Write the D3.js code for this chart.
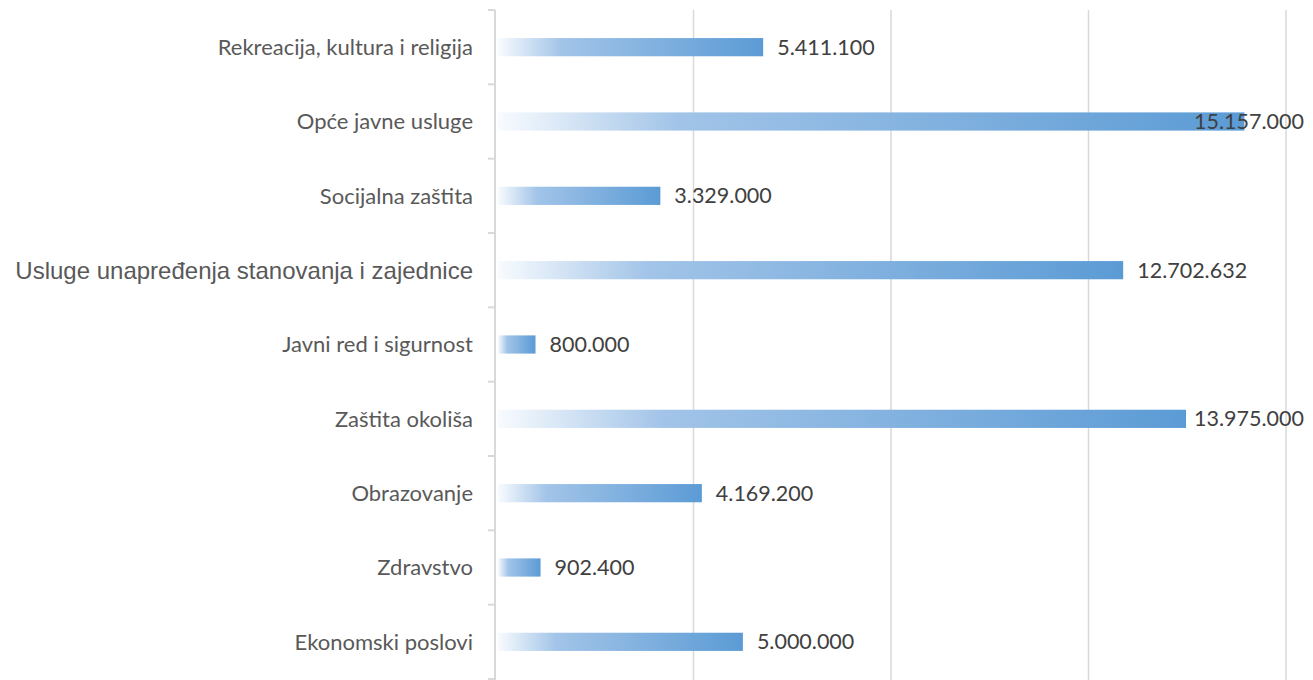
<!DOCTYPE html>
<html>
<head>
<meta charset="utf-8">
<script src="https://cdn.jsdelivr.net/npm/d3@7"></script>
<style>
  html, body { margin: 0; padding: 0; background: #fff; }
  #chart { width: 1313px; height: 680px; }
</style>
</head>
<body>
<div id="chart"></div>
<script>
// DATA
const categories = [
    'Rekreacija, kultura i religija',
    'Opće javne usluge',
    'Socijalna zaštita',
    'Usluge unapređenja stanovanja i zajednice',
    'Javni red i sigurnost',
    'Zaštita okoliša',
    'Obrazovanje',
    'Zdravstvo',
    'Ekonomski poslovi'
];
const values = [5411100, 15157000, 3329000, 12702632, 800000, 13975000, 4169200, 902400, 5000000];
const valueLabels = ['5.411.100', '15.157.000', '3.329.000', '12.702.632', '800.000', '13.975.000', '4.169.200', '902.400', '5.000.000'];
const gridTicks = [4000000, 8000000, 12000000, 16000000];

const width = 1313, height = 680;
const margin = {top: 10, right: 27, bottom: 1, left: 496};
const svgWidth = width - margin.left - margin.right;
const svgHeight = height - margin.top - margin.bottom;

const svg = d3.select('#chart')
    .append('svg')
        .attr('width', width)
        .attr('height', height);

// GRADIENT
const grad = svg.append('defs').append('linearGradient')
    .attr('id', 'barGrad')
    .attr('x1', '0%').attr('x2', '100%')
    .attr('y1', '0%').attr('y2', '0%');
grad.append('stop').attr('offset', '0%').attr('stop-color', '#f8fbfe');
grad.append('stop').attr('offset', '24%').attr('stop-color', '#a2c4e8');
grad.append('stop').attr('offset', '100%').attr('stop-color', '#5b9bd5');

const g = svg.append('g')
    .attr('transform', `translate(${margin.left},${margin.top})`);

//X SCALE
const xScale = d3.scaleLinear()
    .domain([0, 16000000])
    .range([0, svgWidth]);

//Y SCALE
const yScale = d3.scaleBand()
    .domain(categories)
    .range([0, svgHeight])
    .paddingInner(0.755)
    .paddingOuter(0.3775);

// GRIDLINES
g.append('g')
    .selectAll('line')
    .data(gridTicks)
    .join('line')
        .attr('x1', d => xScale(d))
        .attr('x2', d => xScale(d))
        .attr('y1', 0)
        .attr('y2', svgHeight + 2)
        .attr('stroke', '#d9d9d9')
        .attr('stroke-width', 1.5);

// Y AXIS (category boundaries as ticks)
const bandStep = svgHeight / categories.length;
const yAxisG = g.append('g');
yAxisG.append('line')
    .attr('x1', -1).attr('x2', -1)
    .attr('y1', 0).attr('y2', svgHeight + 2)
    .attr('stroke', '#d9d9d9')
    .attr('stroke-width', 2);
yAxisG.selectAll('line.tick')
    .data(d3.range(categories.length + 1))
    .join('line')
        .attr('class', 'tick')
        .attr('x1', -8).attr('x2', -1)
        .attr('y1', i => i * bandStep)
        .attr('y2', i => i * bandStep)
        .attr('stroke', '#d9d9d9')
        .attr('stroke-width', 2);

// LABELS
g.append('g')
    .selectAll('text')
    .data(categories)
    .join('text')
        .attr('x', -23)
        .attr('y', d => yScale(d) + yScale.bandwidth() / 2)
        .attr('dy', '0.35em')
        .attr('text-anchor', 'end')
        .attr('fill', '#595959')
        .style('font-family', (d, i) => i === 3 ? '"Liberation Sans", Arial, sans-serif' : 'Lato, "Open Sans", sans-serif')
        .style('font-size', (d, i) => i === 3 ? '24px' : '22px')
        .text(d => d);

// BARS
const rows = categories.map((c, i) => ({cat: c, value: values[i], label: valueLabels[i]}));

g.append('g')
    .selectAll('rect')
    .data(rows)
    .join('rect')
        .attr('x', 2)
        .attr('y', d => yScale(d.cat))
        .attr('width', d => xScale(d.value) - 2)
        .attr('height', yScale.bandwidth())
        .attr('fill', 'url(#barGrad)');

// VALUE LABELS
g.append('g')
    .selectAll('text')
    .data(rows)
    .join('text')
        .attr('y', d => yScale(d.cat) + yScale.bandwidth() / 2)
        .attr('dy', '0.35em')
        .attr('fill', '#404040')
        .style('font-family', 'Lato, "Open Sans", sans-serif')
        .style('font-size', '21.5px')
        .text(d => d.label)
        .each(function (d) {
            const w = this.getComputedTextLength();
            let x = xScale(d.value) + 14;
            if (x + w > svgWidth + margin.right - 9) x = svgWidth + margin.right - 9 - w;
            d3.select(this).attr('x', x);
        });
</script>
</body>
</html>
